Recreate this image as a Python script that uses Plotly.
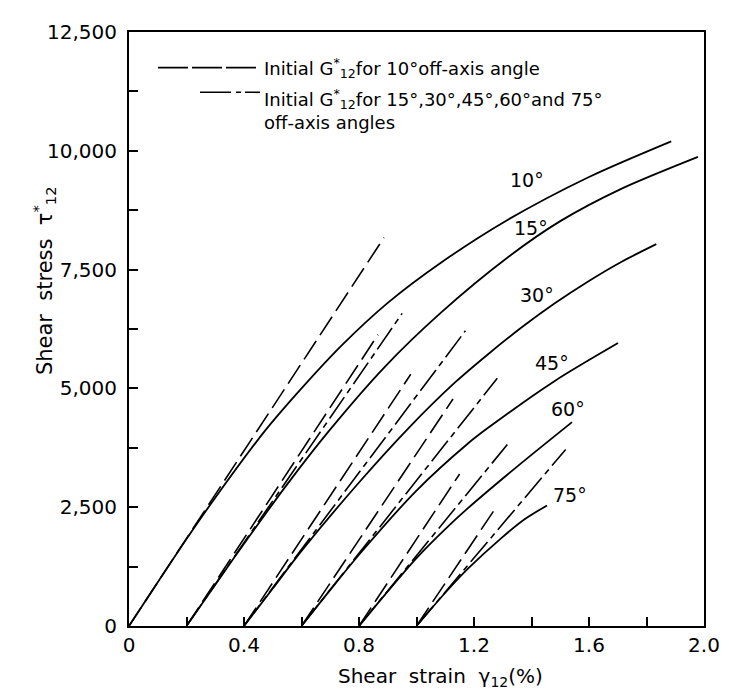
import plotly.graph_objects as go

# ---------------- data ----------------
angles = ["10°", "15°", "30°", "45°", "60°", "75°"]
offsets = [0.0, 0.2, 0.4, 0.6, 0.8, 1.0]

strain_10 = [0.0, 0.1, 0.2, 0.3, 0.472, 0.6, 0.739, 0.9, 1.086, 1.318, 1.6, 1.886]
stress_10 = [0, 920, 1830, 2700, 4100, 5000, 5900, 6800, 7650, 8550, 9450, 10200]

strain_15 = [0.2, 0.3, 0.4, 0.55, 0.692, 0.889, 1.086, 1.318, 1.5, 1.712, 1.979]
stress_15 = [0, 870, 1730, 2980, 4080, 5450, 6600, 7760, 8520, 9200, 9873]

strain_30 = [0.4, 0.5, 0.6, 0.8, 0.97, 1.133, 1.249, 1.365, 1.481, 1.597, 1.712, 1.834]
stress_30 = [0, 790, 1580, 3020, 4150, 5120, 5720, 6280, 6790, 7250, 7660, 8035]

strain_45 = [0.6, 0.7, 0.8, 1.0, 1.179, 1.249, 1.481, 1.701]
stress_45 = [0, 760, 1500, 2850, 3841, 4170, 5158, 5955]

strain_60 = [0.8, 0.9, 1.0, 1.1, 1.179, 1.353, 1.541]
stress_60 = [0, 730, 1430, 2040, 2480, 3370, 4291]

strain_75 = [1.0, 1.1, 1.179, 1.295, 1.376, 1.454]
stress_75 = [0, 700, 1206, 1850, 2246, 2537]

# initial G12* for 10 deg (long dash), drawn from each curve's origin: end points
g10_end_strain = [0.887, 0.866, 0.980, 1.127, 1.150, 1.272]
g10_end_stress = [8174, 6129, 5297, 4777, 3200, 2454]

# initial G12* for the other angles (long-short dash): end points
gown_end_strain = [0.950, 1.170, 1.281, 1.316, 1.519]
gown_end_stress = [6579, 6212, 5214, 3821, 3716]

# curve label positions
label_strain = [1.386, 1.397, 1.418, 1.471, 1.527, 1.533]
label_stress = [9387, 8382, 6961, 5539, 4570, 2766]

x_tickvals = [0.0, 0.2, 0.4, 0.6, 0.8, 1.0, 1.2, 1.4, 1.6, 1.8, 2.0]
x_ticktext = ["0", "", "0.4", "", "0.8", "", "1.2", "", "1.6", "", "2.0"]
y_tickvals = [0, 1250, 2500, 3750, 5000, 6250, 7500, 8750, 10000, 11250, 12500]
y_ticktext = ["0", "", "2,500", "", "5,000", "", "7,500", "", "10,000", "", "12,500"]

# ---------------- figure ----------------
FONT = "DejaVu Sans"
fig = go.Figure()

curves = [(strain_10, stress_10), (strain_15, stress_15), (strain_30, stress_30),
          (strain_45, stress_45), (strain_60, stress_60), (strain_75, stress_75)]
for name, (xs, ys) in zip(angles, curves):
    fig.add_trace(go.Scatter(x=xs, y=ys, mode="lines", name=name,
                             line=dict(color="black", width=1.8, shape="spline", smoothing=0.8),
                             showlegend=False, hoverinfo="skip"))

LONG = "22px,7px"
LONGSHORT = "26px,5px,6px,5px"
for x0, xe, ye in zip(offsets, g10_end_strain, g10_end_stress):
    fig.add_trace(go.Scatter(x=[x0, xe], y=[0, ye], mode="lines",
                             line=dict(color="black", width=1.6, dash=LONG),
                             showlegend=False, hoverinfo="skip"))
for x0, xe, ye in zip(offsets[1:], gown_end_strain, gown_end_stress):
    fig.add_trace(go.Scatter(x=[x0, xe], y=[0, ye], mode="lines",
                             line=dict(color="black", width=1.6, dash=LONGSHORT),
                             showlegend=False, hoverinfo="skip"))

for t, xl, yl in zip(angles, label_strain, label_stress):
    fig.add_annotation(x=xl, y=yl, text=t, showarrow=False,
                       font=dict(family=FONT, size=19, color="black"))

# legend drawn by hand (paper coords)
PW, PH = 575.0, 601.0  # plot width / height in px
def px(xp):
    return (xp - 121) / PW
def py(yp):
    return (618 - yp) / PH

fig.add_shape(type="line", xref="paper", yref="paper",
              x0=px(150), x1=px(252), y0=py(53), y1=py(53),
              line=dict(color="black", width=1.6, dash="30px,4px"))
fig.add_shape(type="line", xref="paper", yref="paper",
              x0=px(192), x1=px(252), y0=py(78), y1=py(78),
              line=dict(color="black", width=1.6, dash="31px,5px,5px,4px"))
fig.add_annotation(xref="paper", yref="paper", x=px(254), y=py(53), xanchor="left", yanchor="middle",
                   text="Initial G<sup>*</sup><sub>12</sub>for 10°off-axis angle", showarrow=False,
                   font=dict(family=FONT, size=18, color="black"))
fig.add_annotation(xref="paper", yref="paper", x=px(254), y=py(70), xanchor="left", yanchor="top",
                   align="left",
                   text="Initial G<sup>*</sup><sub>12</sub>for 15°,30°,45°,60°and 75°<br>off-axis angles",
                   showarrow=False,
                   font=dict(family=FONT, size=18, color="black"))

# axis titles
fig.add_annotation(xref="paper", yref="paper", x=px(432), y=py(670), xanchor="center", yanchor="middle",
                   text="Shear  strain  γ<sub>12</sub>(%)", showarrow=False,
                   font=dict(family=FONT, size=20, color="black"))
fig.add_annotation(xref="paper", yref="paper", x=px(36), y=py(269), xanchor="center", yanchor="middle",
                   text="Shear  stress  τ<sup>*</sup><sub>12</sub>", showarrow=False, textangle=-90,
                   font=dict(family=FONT, size=21, color="black"))

axis_common = dict(showline=True, linecolor="black", linewidth=2, mirror=True,
                   ticks="inside", ticklen=9, tickwidth=1.5, tickcolor="black",
                   showgrid=False, zeroline=False,
                   tickfont=dict(family=FONT, size=20, color="black"))
fig.update_xaxes(range=[0, 2.0], tickmode="array", tickvals=x_tickvals, ticktext=x_ticktext, **axis_common)
fig.update_yaxes(range=[0, 12500], tickmode="array", tickvals=y_tickvals, ticktext=y_ticktext,
                 ticklabelstandoff=6, **axis_common)

fig.update_layout(width=729, height=691, autosize=False,
                  margin=dict(l=121, r=33, t=17, b=73),
                  paper_bgcolor="white", plot_bgcolor="white", showlegend=False)

fig.write_html("out.html")
